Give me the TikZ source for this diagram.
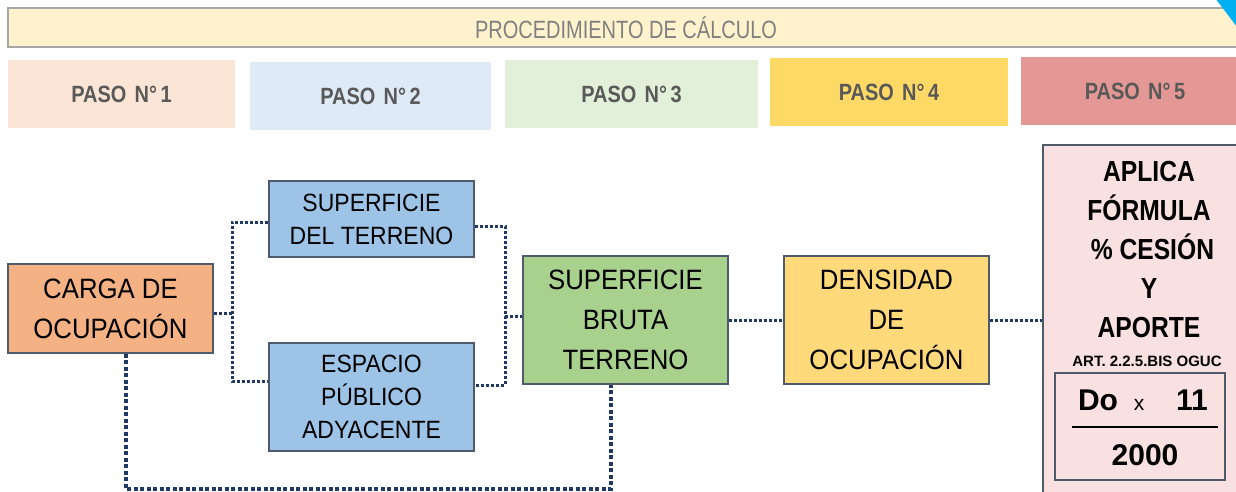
\documentclass[tikz,border=0pt]{standalone}
\usepackage{fontspec}
\setmainfont{Liberation Sans}
\newfontfamily\titlef[FakeStretch=0.8]{Liberation Sans}
\newfontfamily\nodef[FakeStretch=0.92]{Liberation Sans}
\newfontfamily\boldf[FakeStretch=0.85]{Liberation Sans}
\usetikzlibrary{calc}
\definecolor{titlefill}{HTML}{FFF2CC}
\definecolor{titleborder}{HTML}{A6A6A6}
\definecolor{titletext}{HTML}{808080}
\definecolor{stepA}{HTML}{FBE5D6}
\definecolor{stepB}{HTML}{DEEBF7}
\definecolor{stepC}{HTML}{E2F0D9}
\definecolor{stepD}{HTML}{FFD966}
\definecolor{stepE}{HTML}{E39896}
\definecolor{steptext}{HTML}{595959}
\definecolor{orangebox}{HTML}{F4B183}
\definecolor{bluebox}{HTML}{9DC3E6}
\definecolor{greenbox}{HTML}{A9D18E}
\definecolor{yellowbox}{HTML}{FFD97A}
\definecolor{pinkbox}{HTML}{F9E1E1}
\definecolor{boxborder}{HTML}{4F5B6B}
\definecolor{connc}{HTML}{1F3864}
\definecolor{cornerblue}{HTML}{00B0F0}
\tikzset{
  stepbox/.style={rectangle, inner sep=0pt, text=steptext, font=\boldf\bfseries\fontsize{23.5}{26}\selectfont},
  mainbox/.style={rectangle, draw=boxborder, line width=1.2pt, inner sep=0pt, align=center, text=black},
  bigtext/.style={font=\nodef\fontsize{28}{40}\selectfont},
  smalltext/.style={font=\nodef\fontsize{25}{33}\selectfont},
  conn/.style={draw=connc, line width=3pt, dash pattern=on 3pt off 2pt},
  heavyconn/.style={draw=connc, line width=4pt, dash pattern=on 4pt off 2.5pt},
  lbl/.style={inner sep=0pt, anchor=base, text=black}
}
\begin{document}
\begin{tikzpicture}[x=1pt,y=-1pt]
\useasboundingbox (0,0) rectangle (1236,491);
\clip (0,0) rectangle (1236,491);
\fill[white] (0,0) rectangle (1236,491);
% title banner
\node[rectangle, fill=titlefill, draw=titleborder, line width=1.5pt, minimum width=1236pt, minimum height=39pt, inner sep=0pt, text=titletext, font=\titlef\fontsize{25}{28}\selectfont] (title) at (626,27.5) {PROCEDIMIENTO DE CÁLCULO};
\fill[cornerblue] (1215,-2) -- (1260,-2) -- (1260,57) -- cycle;
% steps
\node[stepbox, fill=stepA, minimum width=227pt, minimum height=68pt] (p1) at (121.5,94) {PASO\hspace{0.35em}N°\hspace{0.15em}1};
\node[stepbox, fill=stepB, minimum width=241pt, minimum height=68pt] (p2) at (370.5,96) {PASO\hspace{0.35em}N°\hspace{0.15em}2};
\node[stepbox, fill=stepC, minimum width=253pt, minimum height=68pt] (p3) at (631.5,94) {PASO\hspace{0.35em}N°\hspace{0.15em}3};
\node[stepbox, fill=stepD, minimum width=238pt, minimum height=68pt] (p4) at (889,92) {PASO\hspace{0.35em}N°\hspace{0.15em}4};
\node[stepbox, fill=stepE, minimum width=228pt, minimum height=68pt] (p5) at (1135,91) {PASO\hspace{0.35em}N°\hspace{0.15em}5};
% main boxes
\node[mainbox, bigtext, fill=orangebox, minimum width=205pt, minimum height=89pt] (carga) at (110.5,308.5) {CARGA DE\\OCUPACIÓN};
\node[mainbox, smalltext, fill=bluebox, minimum width=205pt, minimum height=76pt] (sup) at (371.5,219) {SUPERFICIE\\DEL TERRENO};
\node[mainbox, smalltext, fill=bluebox, minimum width=205pt, minimum height=108pt] (esp) at (371.5,397) {ESPACIO\\PÚBLICO\\ADYACENTE};
\node[mainbox, bigtext, fill=greenbox, minimum width=205pt, minimum height=128pt] (bruta) at (625.5,320) {SUPERFICIE\\BRUTA\\TERRENO};
\node[mainbox, bigtext, fill=yellowbox, minimum width=205pt, minimum height=128pt] (dens) at (886.5,320) {DENSIDAD\\DE\\OCUPACIÓN};
\node[mainbox, fill=pinkbox, minimum width=210pt, minimum height=370pt] (aplica) at (1148,330) {};
\node[inner sep=0pt, align=center, text=black, font=\boldf\bfseries\fontsize{29}{39}\selectfont] (aplicatxt) at (1149,250) {APLICA\\FÓRMULA\\\ \% CESIÓN\\Y\\APORTE};
\node[lbl, font=\bfseries\fontsize{15}{18}\selectfont] (art) at (1147,366) {ART. 2.2.5.BIS OGUC};
\node[rectangle, draw=boxborder, line width=1.2pt, minimum width=170pt, minimum height=107pt, inner sep=0pt] (formula) at (1140,426.5) {};
\node[lbl, font=\bfseries\fontsize{30}{34}\selectfont] (do) at (1098,410) {Do};
\node[lbl, font=\fontsize{21}{24}\selectfont] (times) at (1139,410) {x};
\node[lbl, font=\bfseries\fontsize{30}{34}\selectfont] (eleven) at (1192,410) {11};
\node[lbl, font=\bfseries\fontsize{30}{34}\selectfont] (den) at (1145,465) {2000};
\draw[black, line width=1.2pt] (1072,427) -- (1218,427);
% connectors
\coordinate (jl) at (232,313);
\coordinate (jr) at (505,316);
\coordinate (espin) at ($(esp.west)+(0,-16)$);
\coordinate (espout) at ($(esp.east)+(0,-12)$);
\coordinate (supout) at ($(sup.east)+(0,7)$);
\coordinate (supin) at ($(sup.west)+(0,3)$);
\draw[conn] (carga.east |- jl) -- (jl);
\draw[conn] (supin) -- (supin -| jl) -- (espin -| jl) -- (espin);
\draw[conn] (supout) -- (supout -| jr) -- (espout -| jr) -- (espout);
\draw[conn] (jr) -- (bruta.west |- jr);
\draw[conn] (bruta.east) -- (dens.west);
\draw[conn] (dens.east) -- (aplica.west |- dens.east);
\coordinate (cs) at ($(carga.south)+(15.5,0)$);
\coordinate (bs) at ($(bruta.south)+(-14.5,0)$);
\coordinate (low) at (0,489);
\draw[heavyconn] (cs) -- (cs |- low) -- (bs |- low) -- (bs);
\end{tikzpicture}
\end{document}
